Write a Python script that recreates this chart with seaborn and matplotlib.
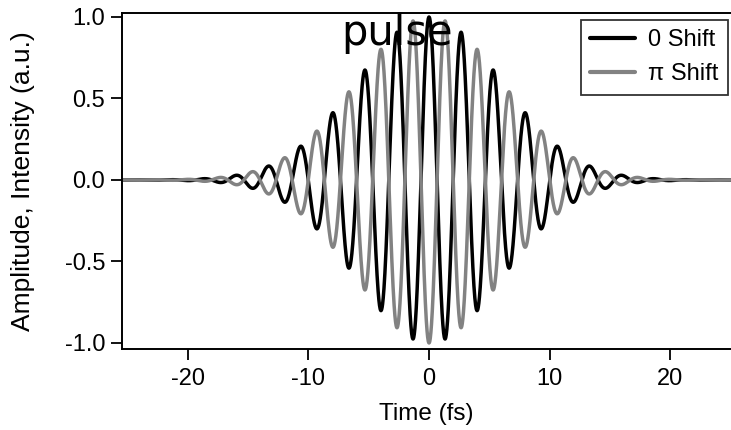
import numpy as np
import pandas as pd
import matplotlib
matplotlib.use("Agg")
import matplotlib.pyplot as plt
import seaborn as sns

# ---- data ----
time_min_fs = -25.5
time_max_fs = 25.5
n_samples = 4001
pulse_fwhm_fs = 10.0          # intensity FWHM of the Gaussian envelope
carrier_period_fs = 2.67      # optical period (800 nm)
phase_shifts = [0.0, np.pi]
series_labels = ["0 Shift", "\u03c0 Shift"]
series_colors = ["#000000", "#828282"]
y_ticks = [-1.0, -0.5, 0.0, 0.5, 1.0]
y_tick_labels = ["-1.0", "-0.5", "0.0", "0.5", "1.0"]
x_ticks = [-20, -10, 0, 10, 20]
x_tick_labels = ["-20", "-10", "0", "10", "20"]

t = np.linspace(time_min_fs, time_max_fs, n_samples)
frames = []
for lab, ph in zip(series_labels, phase_shifts):
    env = np.exp(-2 * np.log(2) * t**2 / pulse_fwhm_fs**2)
    field = env * np.cos(2 * np.pi * t / carrier_period_fs + ph)
    frames.append(pd.DataFrame({"Time": t, "Amp": field, "Series": lab}))
df = pd.concat(frames, ignore_index=True)

# ---- style ----
sns.set_style("ticks")
plt.rcParams["font.family"] = ["Liberation Sans", "DejaVu Sans"]
plt.rcParams["text.color"] = "black"
plt.rcParams["axes.labelcolor"] = "black"

W, H = 731, 430
fig = plt.figure(figsize=(W / 100, H / 100), dpi=100)
left_px, right_px, top_px, bottom_px = 122, 731, 13, 349
ax = fig.add_axes([left_px / W, 1 - bottom_px / H,
                   (right_px - left_px) / W, (bottom_px - top_px) / H])

sns.lineplot(data=df, x="Time", y="Amp", hue="Series",
             palette=dict(zip(series_labels, series_colors)),
             hue_order=series_labels, linewidth=2.5, ax=ax,
             estimator=None, sort=False)

ax.set_xlim(-25.46, 25.04)
ax.set_ylim(-1.037, 1.0245)
ax.set_xticks(x_ticks)
ax.set_xticklabels(x_tick_labels)
ax.set_yticks(y_ticks)
ax.set_yticklabels(y_tick_labels)

for side in ["left", "bottom", "top"]:
    ax.spines[side].set_visible(True)
    ax.spines[side].set_linewidth(1.4)
    ax.spines[side].set_color("black")
ax.spines["right"].set_visible(False)

ax.tick_params(axis="x", length=8, width=1.3, pad=6, labelsize=17,
               colors="black", labelcolor="black")
ax.tick_params(axis="y", length=8, width=1.3, pad=4, labelsize=17,
               colors="black", labelcolor="black")

ax.set_xlabel("Time (fs)", fontsize=17.5, labelpad=9, color="black")
ax.set_ylabel("Amplitude, Intensity (a.u.)", fontsize=19, color="black")
ax.yaxis.set_label_coords(-0.143, 0.5)

leg = ax.legend(loc="upper right", bbox_to_anchor=(728 / W, 1 - 20 / H),
                bbox_transform=fig.transFigure, fontsize=17,
                frameon=True, fancybox=False, handlelength=1.9,
                handletextpad=0.55, labelspacing=0.5, borderpad=0.4,
                borderaxespad=0.0)
leg.get_frame().set_edgecolor("black")
leg.get_frame().set_linewidth(1.3)
for line in leg.get_lines():
    line.set_linewidth(3.0)
for txt in leg.get_texts():
    txt.set_color("black")

fig.text(397 / W, 1 - 45 / H, "pulse", ha="center", va="baseline",
         fontsize=30, family=["DejaVu Sans"], color="black", zorder=10)

fig.savefig("out.png", dpi=100)
